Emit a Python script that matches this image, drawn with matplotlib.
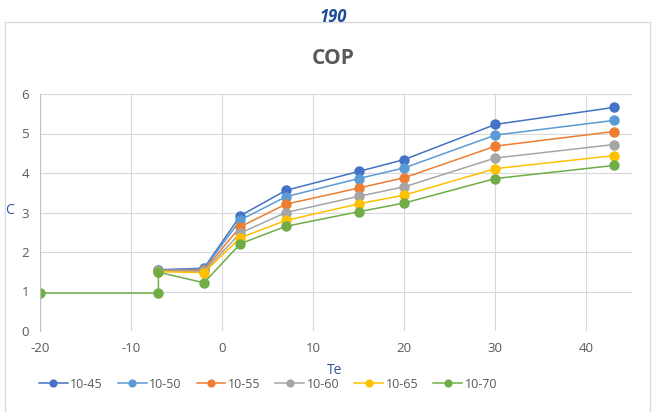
import matplotlib
import matplotlib.pyplot as plt
from matplotlib.patches import Rectangle

matplotlib.use('Agg')

plt.rcParams['font.family'] = ['Open Sans', 'DejaVu Sans']
plt.rcParams['axes.unicode_minus'] = False

# evaporating temperature points
te = [-7, -2, 2, 7, 15, 20, 30, 43]
te_70 = [-20, -7, -7, -2, 2, 7, 15, 20, 30, 43]

cop_45 = [1.55, 1.59, 2.92, 3.56, 4.04, 4.34, 5.23, 5.66]
cop_50 = [1.54, 1.57, 2.81, 3.40, 3.86, 4.13, 4.96, 5.33]
cop_55 = [1.53, 1.54, 2.64, 3.21, 3.62, 3.88, 4.68, 5.05]
cop_60 = [1.52, 1.51, 2.48, 3.00, 3.41, 3.65, 4.38, 4.72]
cop_65 = [1.50, 1.48, 2.36, 2.80, 3.22, 3.44, 4.11, 4.44]
cop_70 = [0.96, 0.96, 1.49, 1.22, 2.21, 2.65, 3.02, 3.24, 3.86, 4.19]

labels = ['10-45', '10-50', '10-55', '10-60', '10-65', '10-70']
colors = ['#4472C4', '#5B9BD5', '#ED7D31', '#A5A5A5', '#FFC000', '#70AD47']

fig = plt.figure(figsize=(6.52, 4.12), dpi=100)

# chart frame
fig.patches.append(Rectangle((5 / 652, -0.05), 645 / 652, 1.05 - 22 / 412,
                             transform=fig.transFigure, fill=False,
                             edgecolor='#D9D9D9', linewidth=1.0))

ax = fig.add_axes([40 / 652, 81 / 412, 592 / 652, 237 / 412])

series = [(te, cop_45), (te, cop_50), (te, cop_55),
          (te, cop_60), (te, cop_65), (te_70, cop_70)]
for (xs, ys), lab, col in zip(series, labels, colors):
    ax.plot(xs, ys, color=col, lw=1.1, marker='o', ms=6.5, label=lab)

ax.set_xlim(-20, 45)
ax.set_ylim(0, 6)
ax.set_xticks([-20, -10, 0, 10, 20, 30, 40])
ax.set_yticks(range(0, 7))
ax.grid(True, color='#D9D9D9', lw=0.8)
ax.set_axisbelow(True)
for side in ['top', 'right', 'bottom']:
    ax.spines[side].set_visible(False)
ax.spines['left'].set_color('#BFBFBF')
ax.tick_params(length=0, labelsize=9.5, colors='#595959', pad=8)

fig.text(333 / 652, 1 - 17 / 412, '190', ha='center', va='center',
         fontsize=12, fontweight='bold', fontstyle='italic', color='#1F4E99')
fig.text(333 / 652, 1 - 58 / 412, 'COP', ha='center', va='center',
         fontsize=15, fontweight='bold', color='#595959')
fig.text(335 / 652, 1 - 370 / 412, 'Te', ha='center', va='center',
         fontsize=10, color='#2F5597')
fig.text(9 / 652, 1 - 210 / 412, 'C', ha='center', va='center',
         fontsize=10, color='#2F5597')

fig.legend(loc='center', bbox_to_anchor=(268 / 652, 1 - 384 / 412), ncol=6,
           frameon=False, fontsize=9, labelcolor='#595959', handlelength=2.3,
           handletextpad=0.2, columnspacing=1.2, markerscale=0.75)

fig.savefig('out.png', dpi=100)
